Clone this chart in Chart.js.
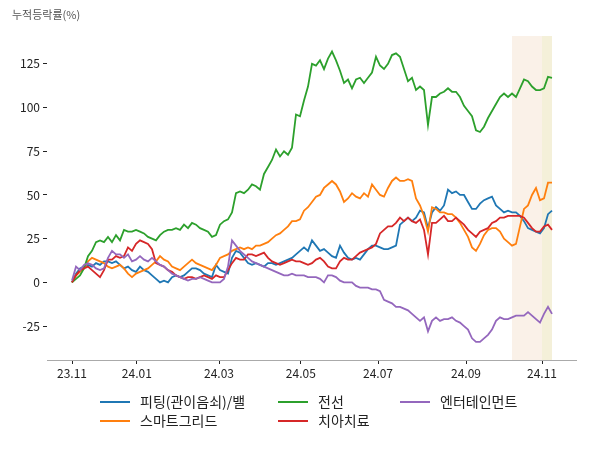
<!DOCTYPE html>
<html>
<head>
<meta charset="utf-8">
<script src="https://cdn.jsdelivr.net/npm/chart.js@4.4.1/dist/chart.umd.min.js"></script>
<style>
  body { margin: 0; background: #fff; }
  #wrap { position: relative; width: 600px; height: 450px; }
  #title { position: absolute; left: 12px; top: 6px; font: 11px 'Noto Sans CJK KR', sans-serif; color: #555; }
  .leg { position: absolute; font: 14px 'Noto Sans CJK KR', sans-serif; color: #222; white-space: nowrap; }
  .leg span { display: inline-block; width: 30px; height: 2px; vertical-align: middle; margin-right: 10px; position: relative; top: -1px; }
</style>
</head>
<body>
<div id="wrap">
  <canvas id="c" width="600" height="450"></canvas>
  <div id="title">누적등락률(%)</div>
  <div id="legend"></div>
</div>
<script>
// x = trading day index
const tickPos = [0, 16.2, 36.75, 57.2, 76.5, 98.5, 117.5];
const tickLabels = ['23.11', '24.01', '24.03', '24.05', '24.07', '24.09', '24.11'];
const shadeSpans = [[110, 120, '#faf1e8'], [117.5, 120, '#f4f0d9']];

const names = ['피팅(관이음쇠)/밸', '스마트그리드', '전선', '치아치료', '엔터테인먼트'];
const colors = ['#1f77b4', '#ff7f0e', '#2ca02c', '#d62728', '#9467bd'];

const fitting = [0,5,8,9,10,9,11,10,12,12,11,12,10,8,9,7,6,9,7,6,4,2,0,1,0,3,4,3,4,6,8,8,7,5,4,3,10,7,6,5,
  14,18,17,14,11,10,11,10,9,11,11,10,11,12,13,14,16,18,20,18,24,21,18,19,17,15,14,21,17,14,13,14,13,16,19,21,21,20,19,19,
  20,21,33,35,37,35,37,41,40,31,40,43,41,44,53,51,52,50,50,46,42,42,45,47,48,49,44,42,40,41,40,40,38,35,31,30,29,28,31,39,41];
const smartgrid = [0,4,6,8,12,14,13,12,11,9,8,9,10,8,5,3,5,6,7,8,10,12,15,13,12,9,8,7,9,11,13,11,10,9,8,7,10,14,15,16,
  18,19,20,19,20,19,21,21,22,23,25,27,28,30,32,35,35,36,41,43,46,49,50,54,56,58,56,52,46,48,51,49,48,51,49,56,53,50,49,54,
  58,60,58,58,59,58,48,44,38,29,43,42,40,40,39,39,37,34,30,26,20,18,22,27,30,31,31,29,25,23,21,22,32,42,44,50,54,47,48,57,57];
const cable = [0,2,4,8,15,18,23,24,23,26,23,27,24,30,29,29,30,29,28,26,25,24,27,29,30,30,31,30,33,31,34,33,31,30,29,26,27,33,35,36,
  40,51,52,51,53,56,55,53,62,66,70,76,72,75,73,77,96,95,104,112,125,124,127,122,128,132,127,121,114,116,111,116,117,114,117,120,129,124,122,125,
  130,131,129,122,115,117,110,112,110,90,106,106,108,109,111,109,109,106,101,98,95,87,86,89,94,98,102,106,108,106,108,106,111,116,115,112,110,110,111,117.5,117];
const dental = [0,4,7,8,9,7,5,3,7,13,13,15,14,15,20,18,22,24,23,22,19,11,10,9,7,6,4,3,2,3,3,2,3,4,3,2,4,3,3,7,
  11,14,13,13,16,16,15,16,17,14,12,11,10,11,12,13,12,12,11,10,11,13,14,12,9,8,8,12,14,13,13,15,17,18,19,20,22,28,30,32,
  32,34,37,35,37,35,34,36,30,16,34,34,36,38,35,35,37,35,33,30,28,26,29,30,31,34,35,37,37,38,38,38,38,37,34,31,29,29,32,33,30];
const entertain = [1,9,7,10,11,10,8,7,8,14,18,16,16,14,16,12,13,15,13,12,14,12,10,9,7,5,4,3,2,1,2,2,3,2,1,0,0,0,2,9,
  24,21,18,16,14,12,11,10,9,8,7,6,5,4,4,5,4,4,4,3,3,3,2,0,4,4,3,1,0,0,0,-2,-3,-3,-3,-4,-4,-5,-10,-11,
  -12,-14,-14,-15,-16,-18,-20,-22,-20,-28,-22,-20,-22,-21,-21,-20,-22,-23,-25,-27,-32,-34,-34,-32,-30,-27,-22,-20,-21,-21,-20,-19,-19,-19,-17,-19,-21,-23,-18,-14,-18];

const yTicks = [-25, 0, 25, 50, 75, 100, 125];

const series = [fitting, smartgrid, cable, dental, entertain];

function toPoints(arr) {
  return arr.map((v, i) => ({ x: i, y: v }));
}

const datasets = series.map((s, k) => ({
  label: names[k],
  data: toPoints(s),
  borderColor: colors[k],
  borderWidth: 1.8,
  pointRadius: 0,
  tension: 0,
  order: series.length - 1 - k
}));

const shadePlugin = {
  id: 'shade',
  beforeDatasetsDraw(chart) {
    const ctx = chart.ctx, xs = chart.scales.x, a = chart.chartArea;
    ctx.save();
    shadeSpans.forEach(sp => {
      const x1 = xs.getPixelForValue(sp[0]);
      const x2 = xs.getPixelForValue(sp[1]);
      ctx.fillStyle = sp[2];
      ctx.fillRect(x1, a.top, x2 - x1, a.bottom - a.top);
    });
    ctx.restore();
  }
};

const font = { family: "'Noto Sans CJK KR', 'Noto Sans', sans-serif", size: 12 };

new Chart(document.getElementById('c'), {
  type: 'line',
  data: { datasets: datasets },
  options: {
    responsive: false,
    animation: false,
    layout: { padding: { top: 36, right: 24, bottom: 60, left: 0 } },
    plugins: { legend: { display: false }, tooltip: { enabled: false } },
    scales: {
      x: {
        type: 'linear',
        min: -6.25,
        max: 126,
        afterBuildTicks: s => { s.ticks = tickPos.map(v => ({ value: v })); },
        afterFit: s => { s.height = 30; },
        ticks: {
          callback: (v) => tickLabels[tickPos.indexOf(v)],
          font: font, color: '#222', padding: 2, maxRotation: 0, autoSkip: false
        },
        grid: { drawOnChartArea: false, tickLength: 4, color: '#222' },
        border: { display: true, color: '#aaa', width: 1 }
      },
      y: {
        min: -44.4,
        max: 140.9,
        afterBuildTicks: s => { s.ticks = yTicks.map(v => ({ value: v })); },
        afterFit: s => { s.width = 47; },
        ticks: { font: font, color: '#222', padding: 3 },
        grid: { drawOnChartArea: false, tickLength: 4, color: '#222' },
        border: { display: false }
      }
    }
  },
  plugins: [shadePlugin]
});

// legend, filled column by column like the original
const legPos = [[100, 391], [100, 410], [278, 391], [278, 410], [400, 391]];
let html = '';
names.forEach((n, k) => {
  html += '<div class="leg" style="left:' + legPos[k][0] + 'px;top:' + legPos[k][1] + 'px">' +
    '<span style="background:' + colors[k] + '"></span>' + n + '</div>';
});
document.getElementById('legend').innerHTML = html;
</script>
</body>
</html>
